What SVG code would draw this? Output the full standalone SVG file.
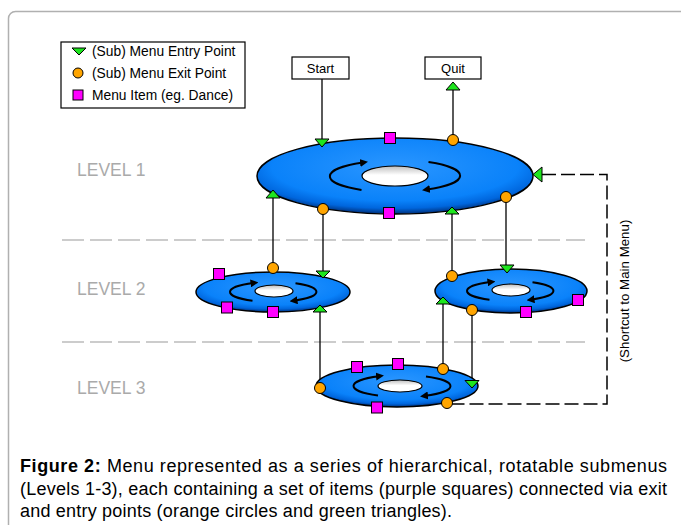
<svg xmlns="http://www.w3.org/2000/svg" width="681" height="525" viewBox="0 0 681 525">
<defs>
<radialGradient id="diskG" cx="50%" cy="38%" r="62%">
<stop offset="0" stop-color="#2a96ff"/>
<stop offset="0.72" stop-color="#0a82fa"/>
<stop offset="0.88" stop-color="#0066dd"/>
<stop offset="1" stop-color="#00307a"/>
</radialGradient>
<linearGradient id="holeG" x1="0" y1="0" x2="0" y2="1">
<stop offset="0" stop-color="#bdbdbd"/>
<stop offset="0.45" stop-color="#ffffff"/>
<stop offset="1" stop-color="#ffffff"/>
</linearGradient>
<marker id="ah" viewBox="0 0 8 8" refX="3" refY="4" markerWidth="8" markerHeight="8" markerUnits="userSpaceOnUse" orient="auto">
<path d="M0,0 L8,4 L0,8 z" fill="#000"/>
</marker>
<style>
.frame{fill:none;stroke:#b0b0b0;stroke-width:1.5}
.disk{fill:url(#diskG);stroke:#000;stroke-width:1.5}
.hole{fill:url(#holeG);stroke:#000;stroke-width:1.2}
.rot{fill:none;stroke:#000;stroke-width:2;marker-end:url(#ah)}
.entry{fill:#1ee61e;stroke:#000;stroke-width:1}
.exit{fill:#ffa500;stroke:#000;stroke-width:1}
.item{fill:#ff00ff;stroke:#000;stroke-width:1}
.conn{stroke:#000;stroke-width:1.3;fill:none}
.sc{stroke:#000;stroke-width:1.5;stroke-dasharray:14 5;fill:none}
.lvline{stroke:#cccccc;stroke-width:2;stroke-dasharray:22 6}
.lvl{font-family:"Liberation Sans",Arial,sans-serif;font-size:17.5px;fill:#aaaaaa}
.lbl{font-family:"Liberation Sans",Arial,sans-serif;font-size:13.8px;fill:#000}
.box{fill:#fff;stroke:#000;stroke-width:1.2}
.cap{font-family:"Liberation Sans",Arial,sans-serif;font-size:18px;fill:#000}
</style>
</defs>
<rect width="681" height="525" fill="#fff"/>
<rect class="frame" x="8.5" y="11.5" width="720" height="560" rx="7"/>

<g id="level-lines">
<line class="lvline" x1="62" y1="240" x2="585" y2="240"/>
<line class="lvline" x1="62" y1="342" x2="585" y2="342"/>
<text class="lvl" x="77" y="176">LEVEL 1</text>
<text class="lvl" x="77" y="295">LEVEL 2</text>
<text class="lvl" x="77" y="394">LEVEL 3</text>
</g>

<g id="legend">
<rect x="61" y="42" width="184" height="66" fill="#fff" stroke="#000" stroke-width="1.2"/>
<polygon class="entry" points="72,48 86,48 79,55"/>
<circle class="exit" cx="78" cy="73" r="5"/>
<rect class="item" x="73" y="90" width="10" height="10"/>
<text class="lbl" x="92" y="56">(Sub) Menu Entry Point</text>
<text class="lbl" x="92" y="78">(Sub) Menu Exit Point</text>
<text class="lbl" x="92" y="100">Menu Item (eg. Dance)</text>
</g>

<g id="connectors">
<line class="conn" x1="322" y1="79" x2="322" y2="140"/>
<line class="conn" x1="453" y1="90" x2="453" y2="135"/>
<line class="conn" x1="273" y1="198" x2="273" y2="263"/>
<line class="conn" x1="323" y1="214" x2="323" y2="271"/>
<line class="conn" x1="452" y1="214" x2="452" y2="271"/>
<line class="conn" x1="506" y1="202" x2="506" y2="265"/>
<line class="conn" x1="320" y1="312" x2="320" y2="382"/>
<line class="conn" x1="443" y1="304" x2="443" y2="364"/>
<line class="conn" x1="472" y1="315" x2="472" y2="381"/>
<polyline class="sc" points="542,174.5 607,174.5 607,404 452,404"/>
</g>

<g id="start">
<rect class="box" x="292" y="57" width="57" height="22"/>
<text class="lbl" x="320.5" y="73" text-anchor="middle" style="font-size:13px">Start</text>
</g>
<g id="quit">
<rect class="box" x="425" y="57" width="56" height="22"/>
<text class="lbl" x="453" y="73" text-anchor="middle" style="font-size:13px">Quit</text>
</g>

<g id="level1">
<ellipse class="disk" cx="395" cy="176" rx="138" ry="38"/>
<ellipse class="hole" cx="395" cy="176" rx="33" ry="10"/>
<path class="rot" d="M361.5,189.9 A67,16 0 0 1 363,162.5"/>
<path class="rot" d="M428.5,162.1 A67,16 0 0 1 427,189.5"/>
<polygon class="entry" points="315,139 329,139 322,147"/>
<rect class="item" x="384.5" y="132.5" width="11" height="11"/>
<circle class="exit" cx="453" cy="140" r="5.5"/>
<polygon class="entry" points="446,90 460,90 453,82"/>
<polygon class="entry" points="542,167 542,182 533,174.5"/>
<polygon class="entry" points="266,198 280,198 273,190"/>
<circle class="exit" cx="323" cy="209" r="5.5"/>
<rect class="item" x="383.5" y="207.5" width="11" height="11"/>
<polygon class="entry" points="445,214 459,214 452,207"/>
<circle class="exit" cx="506" cy="197" r="5.5"/>
</g>

<g id="level2-left">
<ellipse class="disk" cx="273" cy="292" rx="77" ry="20"/>
<ellipse class="hole" cx="274" cy="291" rx="19" ry="6"/>
<path class="rot" d="M252.5,300.7 A43,10 0 0 1 253.5,283"/>
<path class="rot" d="M295.5,283.3 A43,10 0 0 1 294.5,300.6"/>
<rect class="item" x="213.5" y="268.5" width="11" height="11"/>
<rect class="item" x="221.5" y="302" width="11" height="11"/>
<rect class="item" x="267.5" y="306.5" width="11" height="11"/>
<circle class="exit" cx="273" cy="268" r="5.5"/>
<polygon class="entry" points="316,271 330,271 323,278"/>
<polygon class="entry" points="313,312 327,312 320,305"/>
</g>

<g id="level2-right">
<ellipse class="disk" cx="511" cy="291" rx="76" ry="22"/>
<ellipse class="hole" cx="511" cy="290" rx="19" ry="6"/>
<path class="rot" d="M489.5,299.7 A43,10 0 0 1 490.5,282"/>
<path class="rot" d="M532.5,282.3 A43,10 0 0 1 531.5,299.6"/>
<circle class="exit" cx="452" cy="276" r="5.5"/>
<polygon class="entry" points="500,265 514,265 507,273"/>
<polygon class="entry" points="436,304 450,304 443,297"/>
<circle class="exit" cx="472" cy="310" r="5.5"/>
<rect class="item" x="520.5" y="306.5" width="11" height="11"/>
<rect class="item" x="572.5" y="294.5" width="11" height="11"/>
</g>

<g id="level3">
<ellipse class="disk" cx="397" cy="386" rx="81" ry="21"/>
<ellipse class="hole" cx="400" cy="386" rx="22" ry="6"/>
<path class="rot" d="M378,395.5 A48,11 0 0 1 379,376.2"/>
<path class="rot" d="M426,376.5 A48,11 0 0 1 425,395.8"/>
<circle class="exit" cx="320" cy="388" r="5.5"/>
<rect class="item" x="351.5" y="361.5" width="11" height="11"/>
<rect class="item" x="392.5" y="358.5" width="11" height="11"/>
<rect class="item" x="371.5" y="402" width="11" height="11"/>
<circle class="exit" cx="443" cy="369" r="5.5"/>
<polygon class="entry" points="465,380.5 479,380.5 472,388"/>
<circle class="exit" cx="447" cy="403" r="5.5"/>
</g>

<g id="shortcut-label">
<text class="lbl" transform="translate(629,291) rotate(-90)" text-anchor="middle" style="font-size:13.3px">(Shortcut to Main Menu)</text>
</g>

<g id="caption">
<text class="cap" x="20" y="472" textLength="647" lengthAdjust="spacing"><tspan font-weight="bold">Figure 2:</tspan> Menu represented as a series of hierarchical, rotatable submenus</text>
<text class="cap" x="20" y="495" textLength="647" lengthAdjust="spacing">(Levels 1-3), each containing a set of items (purple squares) connected via exit</text>
<text class="cap" x="20" y="517" textLength="432" lengthAdjust="spacing">and entry points (orange circles and green triangles).</text>
</g>
</svg>
